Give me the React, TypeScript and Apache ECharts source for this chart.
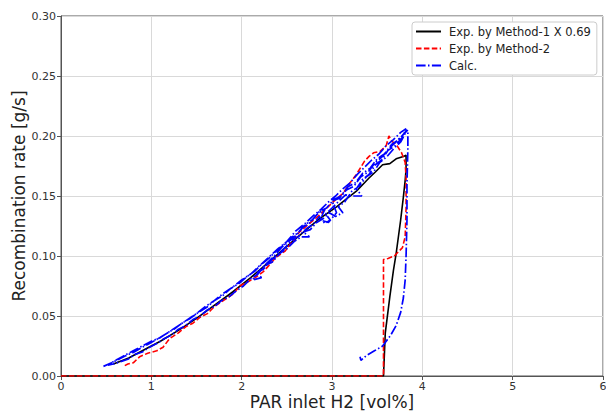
import React, { useEffect, useRef } from "react";
import * as echarts from "echarts";

const FONT = "DejaVu Sans";

const xTicks = [0, 1, 2, 3, 4, 5, 6];
const yTicks = [0, 0.05, 0.1, 0.15, 0.2, 0.25, 0.3];

const seriesNames = ["Exp. by Method-1 X 0.69", "Exp. by Method-2", "Calc."];

// [PAR inlet H2 vol%, recombination rate g/s]
const method1: number[][] = [
  [0, 0], [1, 0], [2, 0], [3, 0], [3.57, 0],
  [3.58, 0.018], [3.59, 0.036], [3.64, 0.066], [3.68, 0.088], [3.71, 0.102],
  [3.76, 0.13], [3.79, 0.149], [3.81, 0.163], [3.82, 0.172], [3.82, 0.184],
  [3.79, 0.183], [3.71, 0.181], [3.64, 0.177], [3.56, 0.176], [3.48, 0.17],
  [3.41, 0.165], [3.27, 0.154], [3.15, 0.147], [3.05, 0.141], [2.86, 0.131],
  [2.7, 0.121], [2.5, 0.108], [2.3, 0.095], [2.1, 0.082], [1.9, 0.07],
  [1.7, 0.059], [1.5, 0.048], [1.3, 0.038], [1.1, 0.029], [0.9, 0.021],
  [0.75, 0.015], [0.58, 0.01],
];

const method2: number[][] = [
  [0, 0], [1, 0], [2, 0], [3, 0], [3.57, 0],
  [3.57, 0.05], [3.57, 0.097], [3.62, 0.098], [3.69, 0.1], [3.78, 0.107],
  [3.81, 0.116], [3.82, 0.14], [3.82, 0.165], [3.81, 0.178], [3.77, 0.186],
  [3.72, 0.192], [3.66, 0.196], [3.63, 0.2], [3.6, 0.192], [3.53, 0.187],
  [3.46, 0.186], [3.41, 0.183], [3.36, 0.179], [3.27, 0.168], [3.2, 0.161],
  [3.12, 0.152], [3.04, 0.147], [2.97, 0.142], [2.86, 0.134], [2.75, 0.127],
  [2.64, 0.12], [2.55, 0.111], [2.48, 0.104], [2.38, 0.099], [2.3, 0.092],
  [2.24, 0.087], [2.15, 0.082], [2.08, 0.079], [1.98, 0.075], [1.9, 0.068],
  [1.8, 0.063], [1.7, 0.058], [1.62, 0.052], [1.54, 0.049], [1.46, 0.044],
  [1.38, 0.041], [1.3, 0.036], [1.2, 0.031], [1.13, 0.024], [1.06, 0.021],
  [0.96, 0.019], [0.87, 0.016], [0.8, 0.011], [0.74, 0.01], [0.69, 0.008],
];

const calc: number[][] = [
  // rising pass
  [0.47, 0.008], [0.56, 0.011], [0.64, 0.014], [0.72, 0.017], [0.81, 0.02],
  [0.9, 0.024], [0.98, 0.027], [1.07, 0.031], [1.16, 0.035], [1.25, 0.039],
  [1.34, 0.044], [1.43, 0.048], [1.52, 0.053], [1.61, 0.057], [1.7, 0.063],
  [1.79, 0.067], [1.88, 0.073], [1.97, 0.077], [2.06, 0.083], [2.14, 0.087],
  [2.22, 0.093], [2.3, 0.098], [2.38, 0.104], [2.46, 0.109], [2.54, 0.115],
  [2.62, 0.119], [2.7, 0.126], [2.78, 0.13], [2.86, 0.137], [2.94, 0.14],
  [3.02, 0.147], [3.1, 0.15], [3.18, 0.158], [3.26, 0.161], [3.34, 0.169],
  [3.42, 0.173], [3.5, 0.181], [3.58, 0.185], [3.66, 0.193], [3.74, 0.197],
  [3.83, 0.205],
  // falling pass
  [3.76, 0.195], [3.69, 0.19], [3.61, 0.183], [3.53, 0.178], [3.46, 0.17],
  [3.38, 0.166], [3.3, 0.158], [3.22, 0.154], [3.14, 0.145], [3.07, 0.141],
  [3.12, 0.136], [3.04, 0.133], [2.97, 0.136], [2.9, 0.131], [2.83, 0.128],
  [2.76, 0.122], [2.68, 0.12], [2.75, 0.116], [2.66, 0.116], [2.58, 0.112],
  [2.5, 0.106], [2.42, 0.102], [2.34, 0.095], [2.26, 0.092], [2.18, 0.085],
  [2.1, 0.081], [2.02, 0.075], [1.94, 0.071], [1.86, 0.066], [1.78, 0.063],
  [1.7, 0.058], [1.62, 0.055], [1.54, 0.05], [1.46, 0.047], [1.38, 0.042],
  [1.3, 0.039], [1.22, 0.034], [1.14, 0.031], [1.06, 0.027], [0.98, 0.024],
  [0.9, 0.02], [0.82, 0.018], [0.74, 0.014], [0.66, 0.012], [0.58, 0.01],
  [0.52, 0.009],
  // rising pass
  [0.6, 0.013], [0.7, 0.017], [0.8, 0.021], [0.9, 0.025], [1.0, 0.029],
  [1.1, 0.032], [1.2, 0.037], [1.3, 0.042], [1.4, 0.047], [1.5, 0.052],
  [1.6, 0.058], [1.7, 0.063], [1.8, 0.069], [1.9, 0.074], [2.0, 0.08],
  [2.1, 0.085], [2.2, 0.092], [2.3, 0.099], [2.4, 0.106], [2.5, 0.112],
  [2.6, 0.121], [2.7, 0.127], [2.8, 0.134], [2.88, 0.139], [2.96, 0.145],
  [3.04, 0.15], [3.12, 0.156], [3.2, 0.161], [3.28, 0.168], [3.36, 0.174],
  [3.44, 0.18], [3.52, 0.185], [3.6, 0.192], [3.68, 0.197], [3.76, 0.203],
  [3.82, 0.206],
  // falling pass
  [3.78, 0.199], [3.7, 0.192], [3.62, 0.188], [3.55, 0.18], [3.48, 0.176],
  [3.41, 0.168], [3.34, 0.164], [3.27, 0.156], [3.33, 0.15], [3.22, 0.15],
  [3.15, 0.151], [3.08, 0.146], [3.0, 0.14], [2.93, 0.135], [2.98, 0.13],
  [2.92, 0.127], [2.86, 0.133], [2.8, 0.127], [2.72, 0.123], [2.64, 0.117],
  [2.56, 0.113], [2.48, 0.107], [2.4, 0.101], [2.32, 0.096], [2.24, 0.089],
  [2.16, 0.086], [2.22, 0.082], [2.12, 0.08],
  // rising pass
  [2.2, 0.088], [2.28, 0.094], [2.36, 0.1], [2.44, 0.107], [2.52, 0.112],
  [2.6, 0.117], [2.68, 0.124], [2.76, 0.128], [2.84, 0.135], [2.92, 0.139],
  [2.87, 0.13], [2.96, 0.128], [3.05, 0.136], [3.0, 0.146], [3.08, 0.148],
  [3.16, 0.155], [3.24, 0.158], [3.32, 0.166], [3.4, 0.17], [3.48, 0.178],
  [3.56, 0.183], [3.64, 0.19], [3.72, 0.196], [3.8, 0.202], [3.84, 0.205],
  // descent along the right edge
  [3.84, 0.19], [3.83, 0.16], [3.83, 0.13], [3.82, 0.1], [3.81, 0.08],
  [3.79, 0.065], [3.76, 0.053], [3.71, 0.042], [3.65, 0.034], [3.56, 0.025],
  [3.47, 0.021], [3.38, 0.017], [3.32, 0.013], [3.31, 0.016],
];

const colors = ["#000000", "#ff0000", "#0000ff"];

export default function App() {
  const ref = useRef<HTMLDivElement>(null);
  useEffect(() => {
    if (!ref.current) return;
    const chart = echarts.init(ref.current, null, { renderer: "svg" });
    const axisLabelStyle = { color: "#333", fontSize: 11, fontFamily: FONT };
    chart.setOption({
      animation: false,
      backgroundColor: "#ffffff",
      textStyle: { fontFamily: FONT },
      grid: {
        left: 61,
        right: 3,
        top: 16,
        bottom: 36,
        containLabel: false,
        outerBoundsMode: "none",
        show: true,
        borderColor: "#555",
        borderWidth: 1,
        backgroundColor: "transparent",
      },
      legend: {
        left: 412,
        top: 22,
        orient: "vertical",
        itemWidth: 25,
        itemHeight: 10,
        itemGap: 4,
        backgroundColor: "#ffffff",
        borderColor: "#cccccc",
        borderWidth: 1,
        borderRadius: 3,
        padding: [3, 6, 3, 3],
        itemStyle: { opacity: 0 },
        textStyle: {
          fontSize: 11.5,
          color: "#222",
          fontFamily: FONT,
          lineHeight: 13,
          padding: [0, 0, 0, 3],
        },
        data: seriesNames,
      },
      xAxis: {
        type: "value",
        min: 0,
        max: 6,
        interval: 1,
        name: "PAR inlet H2 [vol%]",
        nameLocation: "middle",
        nameGap: 17,
        nameMoveOverlap: false,
        nameTextStyle: { fontSize: 17, color: "#222", fontFamily: FONT, lineHeight: 18 },
        axisLine: { show: true, onZero: false, lineStyle: { color: "#555", width: 1 } },
        axisTick: { show: true, length: 4, lineStyle: { color: "#555" } },
        axisLabel: {
          ...axisLabelStyle,
          margin: 5,
          formatter: (v: number) => (xTicks.includes(v) ? String(v) : ""),
        },
        splitLine: { show: true, lineStyle: { color: "#d9d9d9", width: 1 } },
      },
      yAxis: {
        type: "value",
        min: 0,
        max: 0.3,
        interval: 0.05,
        name: "Recombination rate [g/s]",
        nameLocation: "middle",
        nameGap: 34,
        nameMoveOverlap: false,
        nameTextStyle: { fontSize: 17, color: "#222", fontFamily: FONT },
        axisLine: { show: true, onZero: false, lineStyle: { color: "#555", width: 1 } },
        axisTick: { show: true, length: 4, lineStyle: { color: "#555" } },
        axisLabel: {
          ...axisLabelStyle,
          margin: 5,
          formatter: (v: number) => {
            const t = yTicks.find((y) => Math.abs(y - v) < 1e-9);
            return t === undefined ? "" : t.toFixed(2);
          },
        },
        splitLine: { show: true, lineStyle: { color: "#d9d9d9", width: 1 } },
      },
      series: [
        {
          name: seriesNames[0],
          type: "line",
          data: method1,
          symbol: "none",
          lineStyle: { color: colors[0], width: 1.6, type: "solid" },
          itemStyle: { color: colors[0] },
        },
        {
          name: seriesNames[1],
          type: "line",
          data: method2,
          symbol: "none",
          lineStyle: { color: colors[1], width: 1.6, type: [5.5, 2.4] },
          itemStyle: { color: colors[1] },
        },
        {
          name: seriesNames[2],
          type: "line",
          data: calc,
          symbol: "none",
          lineStyle: { color: colors[2], width: 1.7, type: [9.6, 2.4, 1.5, 2.4] },
          itemStyle: { color: colors[2] },
        },
      ],
    });
    return () => chart.dispose();
  }, []);
  return (
    <div
      ref={ref}
      style={{ position: "absolute", left: 0, top: 0, width: 606, height: 412 }}
    />
  );
}
